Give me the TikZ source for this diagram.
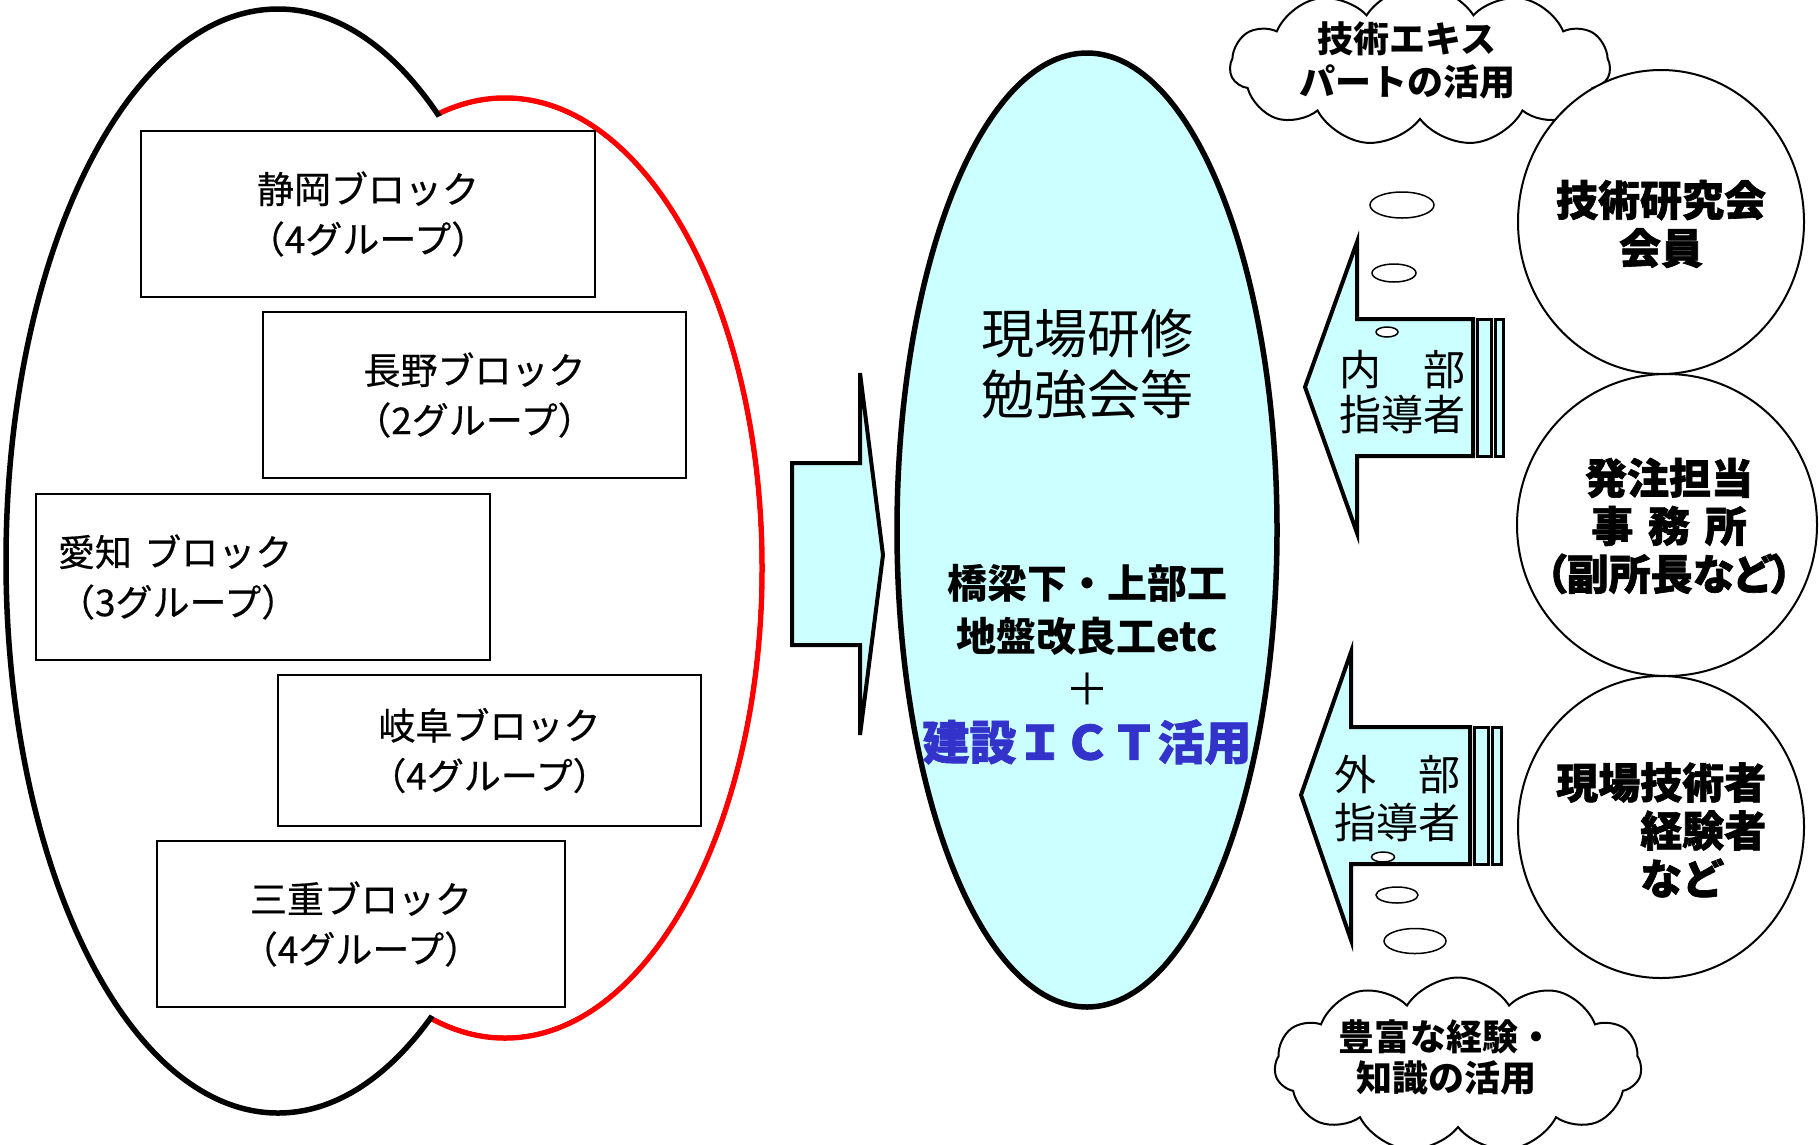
\documentclass[tikz,border=0pt]{standalone}
\usepackage{fontspec}
\usetikzlibrary{shapes.geometric,shapes.symbols}
\newfontfamily\jp{Noto Sans CJK JP}
\newfontfamily\jpmed[FakeBold=0.5]{Noto Sans CJK JP}
\newfontfamily\jpheavy[FakeBold=1.5]{Noto Sans CJK JP}
\definecolor{cyanfill}{RGB}{204,255,255}
\definecolor{ictblue}{RGB}{51,51,204}
\begin{document}
\begin{tikzpicture}[x=1pt,y=-1pt,
  blockbox/.style={draw=black, line width=2pt, fill=white, inner sep=0pt, align=center,
    font=\jpmed\fontsize{37}{50}\selectfont},
  person/.style={ellipse, draw=black, line width=2pt, fill=white, inner sep=0pt},
  persontext/.style={inner sep=0pt, font=\jpheavy\bfseries\fontsize{42}{48}\selectfont},
  bubble/.style={ellipse, draw=black, line width=1.5pt, fill=white, inner sep=0pt},
  blockarrow/.style={draw=black, fill=cyanfill, line width=4pt, line join=miter},
  stripe/.style={draw=black, fill=cyanfill, line width=3pt},
  thought/.style={cloud, draw=black, line width=2pt, fill=white, cloud puffs=11, cloud puff arc=115, inner sep=0pt},
  thoughttext/.style={inner sep=0pt, align=center, font=\jp\bfseries\fontsize{36}{43}\selectfont},
  guidetext/.style={inner sep=0pt, align=center, font=\jp\fontsize{42}{48}\selectfont}
]
\useasboundingbox (0,0) rectangle (1819,1144);

% ---- left group outline (black + red ellipses) ----
\draw[red, line width=5.5pt] (505,568) ellipse [x radius=257, y radius=470];
\filldraw[fill=white, draw=black, line width=5.5pt] (278,561) ellipse [x radius=272, y radius=552];
\fill[white] (505,568) ellipse [x radius=254.2, y radius=467.2];

% ---- blocks ----
\node[blockbox, minimum width=453.5pt, minimum height=166pt] (shizuoka) at (368,214) {静岡ブロック\\（4グループ）};
\node[blockbox, minimum width=423pt, minimum height=166pt] (nagano) at (474.5,395) {長野ブロック\\（2グループ）};
\node[blockbox, minimum height=166pt, text width=410pt, inner xsep=22pt, align=left] (aichi) at (263,577) {愛知 ブロック\\（3グループ）};
\node[blockbox, minimum width=423pt, minimum height=151pt] (gifu) at (489.5,750.5) {岐阜ブロック\\（4グループ）};
\node[blockbox, minimum width=408pt, minimum height=166pt] (mie) at (361,924) {三重ブロック\\（4グループ）};

% ---- middle arrow ----
\draw[blockarrow] (792,463) -- (860,463) -- (860,373) -- (883,555) -- (860,735) -- (860,645) -- (792,645) -- cycle;

% ---- central ellipse ----
\node[ellipse, draw=black, line width=5.5pt, fill=cyanfill, minimum width=380pt, minimum height=954pt, inner sep=0pt] (study) at (1087,530) {};
\node[inner sep=0pt, align=center, font=\jp\fontsize{53}{61}\selectfont] (studytitle) at (1087,364) {現場研修\\勉強会等};
\node[inner sep=0pt, align=center, font=\jp\bfseries\fontsize{40}{53}\selectfont] (works) at (1087,610) {橋梁下・上部工\\地盤改良工etc};
\node[inner sep=0pt, font=\jp\fontsize{44}{50}\selectfont] (plus) at (1087,689) {＋};
\node[inner sep=0pt, text=ictblue, font=\jpheavy\bfseries\fontsize{47}{50}\selectfont] (ict) at (1087,742) {建設ＩＣＴ活用};

% ---- clouds ----
\node[thought, minimum width=380pt, minimum height=160pt, aspect=2.4] (cloudA) at (1420,66) {};
\node[thoughttext] (cloudAtext) at (1407,60) {技術エキス\\パートの活用};
\node[thought, minimum width=367pt, minimum height=175pt, aspect=2.1] (cloudB) at (1458,1065) {};
\node[thoughttext, font=\jp\bfseries\fontsize{36}{41}\selectfont] (cloudBtext) at (1446,1057) {豊富な経験・\\知識の活用};

% ---- right-side arrows ----
\draw[blockarrow] (1473,319) -- (1357,319) -- (1357,242) -- (1305,387) -- (1357,533) -- (1357,456) -- (1473,456) -- cycle;
\draw[stripe] (1477,319) rectangle (1491,456);
\draw[stripe] (1495,319) rectangle (1503,456);
\draw[blockarrow] (1470,727) -- (1351,727) -- (1351,652) -- (1301,795) -- (1351,940) -- (1351,864) -- (1470,864) -- cycle;
\draw[stripe] (1474,727) rectangle (1488,864);
\draw[stripe] (1492,727) rectangle (1501,864);

\node[guidetext, font=\jp\fontsize{42}{45}\selectfont] (inner) at (1402,392) {内　部\\指導者};
\node[guidetext] (outer) at (1397,799) {外　部\\指導者};

% ---- thought bubbles ----
\node[bubble, minimum width=64pt, minimum height=26pt] (ba1) at (1402,205) {};
\node[bubble, minimum width=44pt, minimum height=18pt] (ba2) at (1394,273) {};
\node[bubble, minimum width=22pt, minimum height=10pt] (ba3) at (1387,332) {};
\node[bubble, minimum width=23pt, minimum height=10pt] (bb3) at (1383,857) {};
\node[bubble, minimum width=42pt, minimum height=16pt] (bb2) at (1397,895) {};
\node[bubble, minimum width=62pt, minimum height=25pt] (bb1) at (1415,941) {};

% ---- persons ----
\node[person, minimum width=286pt, minimum height=304pt] (member) at (1661,222) {};
\node[person, minimum width=300pt, minimum height=302pt] (office) at (1667,525) {};
\node[person, minimum width=286pt, minimum height=302pt] (field) at (1661,827) {};
\node[persontext, align=center] (membertext) at (1661,224) {技術研究会\\会員};
\node[persontext, align=center] (officetext) at (1669,526) {発注担当\\事\hspace{0.35em}務\hspace{0.35em}所\\{\addfontfeature{RawFeature=+palt}（副所長など）}};
\node[persontext, align=left, anchor=west] (fieldtext) at (1556,830) {現場技術者\\\hspace*{2em}経験者\\\hspace*{2em}など};
\end{tikzpicture}
\end{document}
